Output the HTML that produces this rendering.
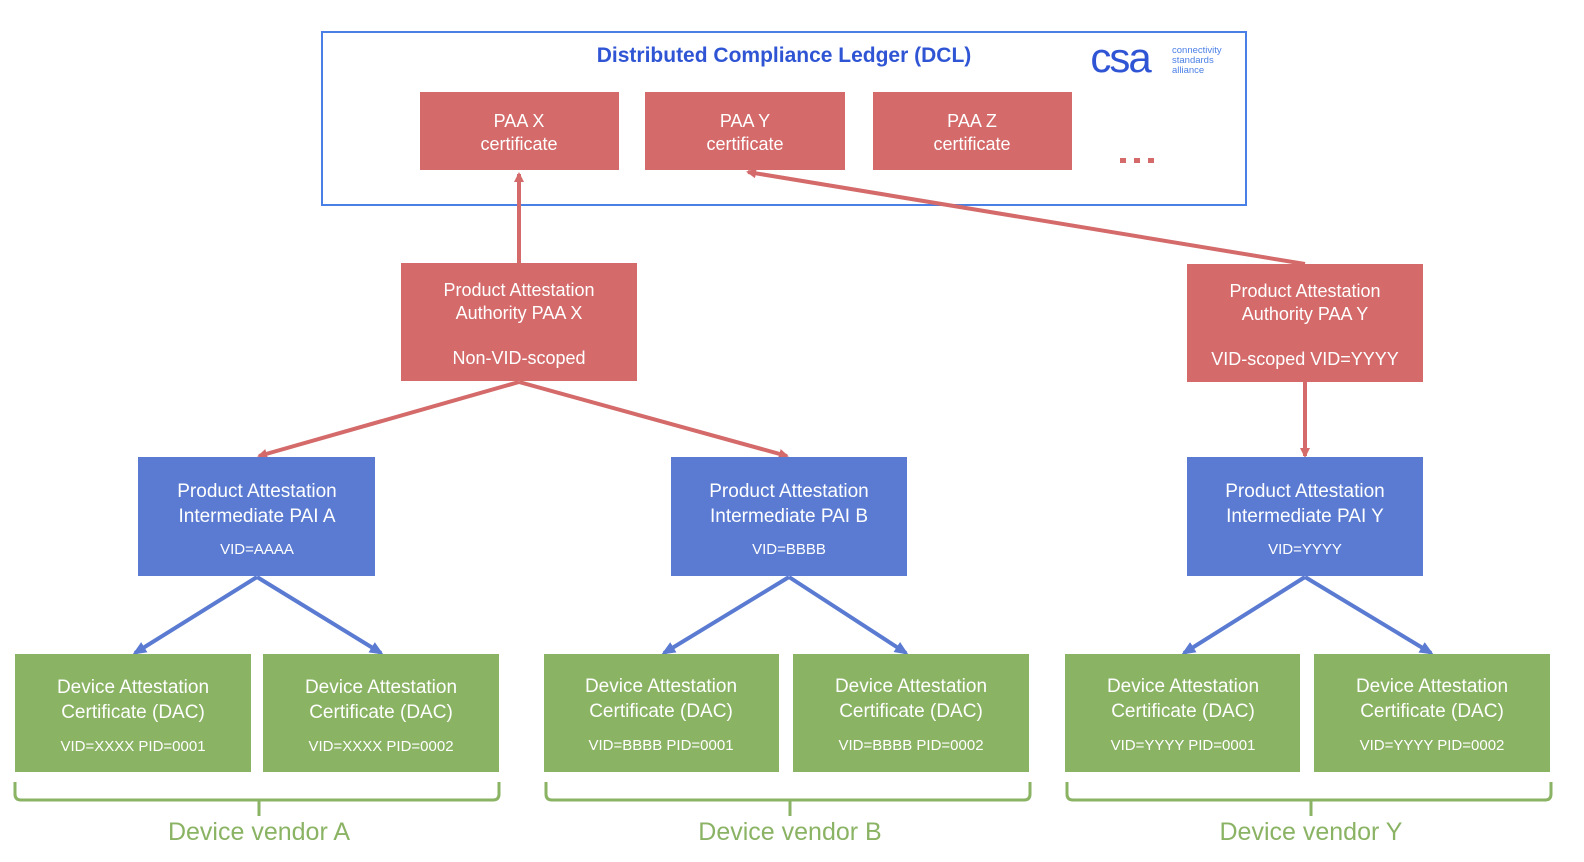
<!DOCTYPE html>
<html><head><meta charset="utf-8"><style>
html,body{margin:0;padding:0;background:#fff;}
svg{display:block;font-family:"Liberation Sans",sans-serif;}
</style></head><body>
<svg width="1584" height="862" viewBox="0 0 1584 862" xmlns="http://www.w3.org/2000/svg">
<defs>
<marker id="ar" markerWidth="10" markerHeight="10" refX="8" refY="5" orient="auto" markerUnits="userSpaceOnUse"><path d="M0,0 L10,5 L0,10 z" fill="#d46a6a"/></marker>
<marker id="ab" markerWidth="14" markerHeight="12" refX="11" refY="6" orient="auto" markerUnits="userSpaceOnUse"><path d="M0,0 L14,6 L0,12 z" fill="#5a7bd1"/></marker>
</defs>
<rect x="322" y="32" width="924" height="173" fill="none" stroke="#4a7fe6" stroke-width="2"/>
<text x="784" y="62" text-anchor="middle" font-size="21" font-weight="bold" fill="#2f55d4">Distributed Compliance Ledger (DCL)</text>
<text x="1120" y="72" text-anchor="middle" font-size="42" fill="#2f55d4" letter-spacing="-2">csa</text>
<text x="1172" y="53" font-size="9.5" fill="#4a7fe6">connectivity</text>
<text x="1172" y="63" font-size="9.5" fill="#4a7fe6">standards</text>
<text x="1172" y="73" font-size="9.5" fill="#4a7fe6">alliance</text>
<g fill="#d46a6a">
<rect x="420" y="92" width="199" height="78"/><rect x="645" y="92" width="200" height="78"/><rect x="873" y="92" width="199" height="78"/>
<rect x="1120" y="158" width="6" height="5"/><rect x="1134" y="158" width="6" height="5"/><rect x="1148" y="158" width="6" height="5"/>
<rect x="401" y="263" width="236" height="118"/><rect x="1187" y="264" width="236" height="118"/>
</g>
<g fill="#fff" font-size="18" text-anchor="middle">
<text x="519" y="127">PAA X</text><text x="519" y="150">certificate</text>
<text x="745" y="127">PAA Y</text><text x="745" y="150">certificate</text>
<text x="972" y="127">PAA Z</text><text x="972" y="150">certificate</text>
<text x="519" y="296">Product Attestation</text><text x="519" y="319">Authority PAA X</text><text x="519" y="364">Non-VID-scoped</text>
<text x="1305" y="297">Product Attestation</text><text x="1305" y="320">Authority PAA Y</text><text x="1305" y="365">VID-scoped VID=YYYY</text>
</g>
<g stroke="#d46a6a" stroke-width="4" fill="none" marker-end="url(#ar)">
<line x1="519" y1="263" x2="519" y2="174"/>
<line x1="1305" y1="264" x2="748" y2="172"/>
<line x1="519" y1="382" x2="259" y2="456"/>
<line x1="519" y1="382" x2="787" y2="456"/>
<line x1="1305" y1="382" x2="1305" y2="456"/>
</g>
<g fill="#5a7bd1">
<rect x="138" y="457" width="237" height="119"/><rect x="671" y="457" width="236" height="119"/><rect x="1187" y="457" width="236" height="119"/>
</g>
<g fill="#fff" text-anchor="middle">
<text x="257" y="497" font-size="19">Product Attestation</text><text x="257" y="522" font-size="19">Intermediate PAI A</text><text x="257" y="554" font-size="15">VID=AAAA</text>
<text x="789" y="497" font-size="19">Product Attestation</text><text x="789" y="522" font-size="19">Intermediate PAI B</text><text x="789" y="554" font-size="15">VID=BBBB</text>
<text x="1305" y="497" font-size="19">Product Attestation</text><text x="1305" y="522" font-size="19">Intermediate PAI Y</text><text x="1305" y="554" font-size="15">VID=YYYY</text>
</g>
<g stroke="#5a7bd1" stroke-width="4" fill="none" marker-end="url(#ab)">
<line x1="257" y1="577" x2="135" y2="653"/><line x1="257" y1="577" x2="381" y2="653"/>
<line x1="789" y1="577" x2="664" y2="653"/><line x1="789" y1="577" x2="906" y2="653"/>
<line x1="1305" y1="577" x2="1184" y2="653"/><line x1="1305" y1="577" x2="1431" y2="653"/>
</g>
<g fill="#8ab364">
<rect x="15" y="654" width="236" height="118"/><rect x="263" y="654" width="236" height="118"/>
<rect x="544" y="654" width="235" height="118"/><rect x="793" y="654" width="236" height="118"/>
<rect x="1065" y="654" width="235" height="118"/><rect x="1314" y="654" width="236" height="118"/>
</g>
<g fill="#fff" text-anchor="middle">
<text x="133" y="693" font-size="19">Device Attestation</text><text x="133" y="718" font-size="19">Certificate (DAC)</text><text x="133" y="751" font-size="15">VID=XXXX PID=0001</text>
<text x="381" y="693" font-size="19">Device Attestation</text><text x="381" y="718" font-size="19">Certificate (DAC)</text><text x="381" y="751" font-size="15">VID=XXXX PID=0002</text>
<text x="661" y="692" font-size="19">Device Attestation</text><text x="661" y="717" font-size="19">Certificate (DAC)</text><text x="661" y="750" font-size="15">VID=BBBB PID=0001</text>
<text x="911" y="692" font-size="19">Device Attestation</text><text x="911" y="717" font-size="19">Certificate (DAC)</text><text x="911" y="750" font-size="15">VID=BBBB PID=0002</text>
<text x="1183" y="692" font-size="19">Device Attestation</text><text x="1183" y="717" font-size="19">Certificate (DAC)</text><text x="1183" y="750" font-size="15">VID=YYYY PID=0001</text>
<text x="1432" y="692" font-size="19">Device Attestation</text><text x="1432" y="717" font-size="19">Certificate (DAC)</text><text x="1432" y="750" font-size="15">VID=YYYY PID=0002</text>
</g>
<g stroke="#8ab364" stroke-width="3" fill="none">
<path d="M15,782 V794 Q15,800 21,800 H493 Q499,800 499,794 V782 M259,800 V816"/>
<path d="M546,782 V794 Q546,800 552,800 H1024 Q1030,800 1030,794 V782 M790,800 V816"/>
<path d="M1067,782 V794 Q1067,800 1073,800 H1545 Q1551,800 1551,794 V782 M1311,800 V816"/>
</g>
<g fill="#8ab364" font-size="25" text-anchor="middle">
<text x="259" y="840">Device vendor A</text>
<text x="790" y="840">Device vendor B</text>
<text x="1311" y="840">Device vendor Y</text>
</g>
</svg>
</body></html>
